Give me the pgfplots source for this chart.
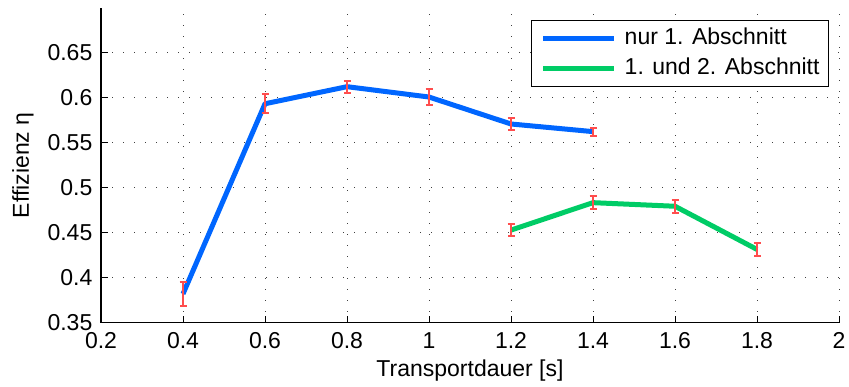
\documentclass[border=0pt]{standalone}
\usepackage{pgfplots}
\pgfplotsset{compat=1.18}
\usepackage{pgfplotstable}
\usepackage{fontspec}
\setmainfont{Liberation Sans}

\definecolor{lineblue}{RGB}{0,102,255}
\definecolor{linegreen}{RGB}{0,204,102}
\definecolor{barred}{RGB}{255,77,77}

% Efficiency vs. transport time (mean and error)
\pgfplotstableread{
x    y       err
0.4  0.382   0.013
0.6  0.5935  0.0105
0.8  0.6125  0.0065
1.0  0.601   0.009
1.2  0.571   0.007
1.4  0.5625  0.0045
}\firstsection

\pgfplotstableread{
x    y       err
1.2  0.453   0.007
1.4  0.4835  0.0075
1.6  0.4795  0.0075
1.8  0.4315  0.0075
}\bothsections

\begin{document}
\fontsize{23bp}{27bp}\selectfont
\begin{tikzpicture}
\useasboundingbox (0,0) rectangle (849bp,387bp);
\begin{axis}[
  at={(101bp,64.3bp)}, anchor=south west,
  width=738bp, height=314.7bp, scale only axis,
  xmin=0.2, xmax=2, ymin=0.35, ymax=0.7,
  xtick={0.2,0.4,0.6,0.8,1,1.2,1.4,1.6,1.8,2},
  ytick={0.35,0.4,0.45,0.5,0.55,0.6,0.65},
  /pgf/number format/assume math mode=true,
  axis lines*=left,
  axis line style={black, line width=1.2bp},
  tick align=inside,
  major tick length=7bp,
  tick style={black, line width=1bp},
  grid=major,
  grid style={black!75, line width=1bp, dash pattern=on 1bp off 10bp},
  xticklabel style={anchor=base, inner sep=0bp, yshift=-25.6bp},
  yticklabel style={anchor=east, inner sep=0bp, xshift=-8.5bp},
  xlabel={Transportdauer [s]},
  ylabel={Effizienz η},
  xlabel style={at={([yshift=-54bp]axis description cs:0.5,0)}, anchor=base},
  ylabel style={at={([xshift=-72bp]axis description cs:0,0.5)}, anchor=base},
  legend style={at={(1,1)}, anchor=north east, xshift=-10bp, yshift=-12bp,
    draw=black, line width=1bp, fill=white, inner xsep=9bp, inner ysep=7.5bp,
    row sep=9bp,
    nodes={inner sep=0bp, text height=16.5bp, text depth=4.5bp}},
  legend cell align=left,
  legend image code/.code={\draw[#1] (0bp,0bp) -- (71bp,0bp);},
]
\addplot[lineblue, line width=5bp, line join=round] table[x=x, y=y] {\firstsection};
\addlegendentry{\hspace{8bp}nur 1. Abschnitt}
\addplot[linegreen, line width=5bp, line join=round] table[x=x, y=y] {\bothsections};
\addlegendentry{\hspace{8bp}1. und 2. Abschnitt}

\addplot[forget plot, draw=none, mark=none,
  error bars/.cd, y dir=both, y explicit,
  error bar style={draw=barred, line width=2bp},
  error mark options={rotate=90, mark size=3.5bp, draw=barred, line width=2bp}]
  table[x=x, y=y, y error=err] {\firstsection};
\addplot[forget plot, draw=none, mark=none,
  error bars/.cd, y dir=both, y explicit,
  error bar style={draw=barred, line width=2bp},
  error mark options={rotate=90, mark size=3.5bp, draw=barred, line width=2bp}]
  table[x=x, y=y, y error=err] {\bothsections};
\end{axis}
\end{tikzpicture}
\end{document}
